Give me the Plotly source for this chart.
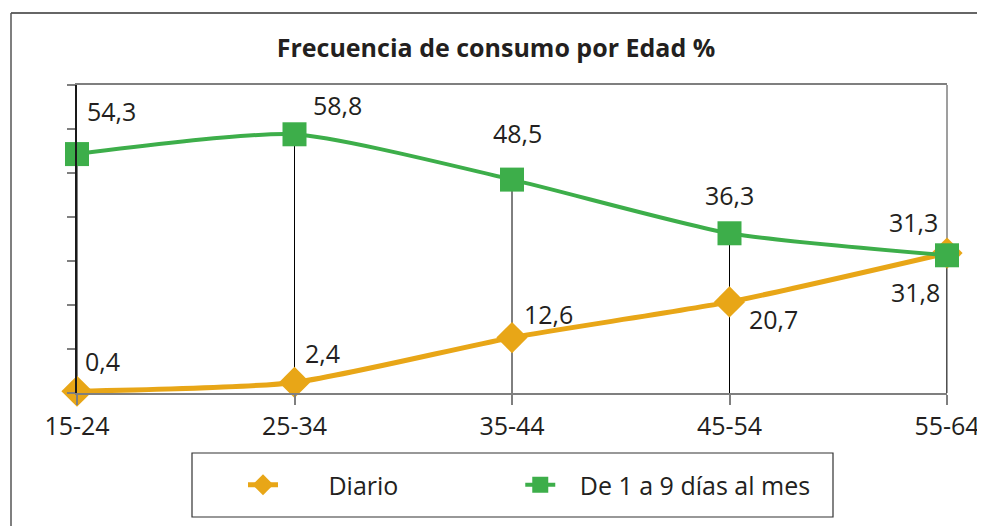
import plotly.graph_objects as go

categories = ["15-24", "25-34", "35-44", "45-54", "55-64"]
diario = [0.4, 2.4, 12.6, 20.7, 31.8]
mensual = [54.3, 58.8, 48.5, 36.3, 31.3]
series_names = ["Diario", "De 1 a 9 días al mes"]
title_text = "Frecuencia de consumo por Edad %"

ORANGE = "#E8A617"
GREEN = "#3DAE4A"
TXT = "#231F20"
FONT = "Open Sans"
NB = "\u00a0"

# page body has an 8px margin: figure origin sits at (8, 8)
OX, OY = 8, 8
W, H = 985 - OX, 526 - OY
PL, PR, PT, PB = 77, 947, 85, 393  # plot area in page pixels
PW, PH = PR - PL, PB - PT

def px(x):
    return (x - PL) / PW

def py(y):
    return (PB - y) / PH

xs = list(range(len(categories)))

fig = go.Figure()

dx, dy = [], []
for i in xs:
    dx += [i, i, None]
    dy += [max(diario[i], mensual[i]), 0, None]
fig.add_trace(go.Scatter(x=dx, y=dy, mode="lines", line=dict(color="#000000", width=1),
                         showlegend=False, hoverinfo="skip"))

fig.add_trace(go.Scatter(x=xs, y=diario, name=NB * 7 + series_names[0] + NB * 18,
                         mode="lines+markers", cliponaxis=False,
                         line=dict(color=ORANGE, width=5, shape="spline", smoothing=0.6),
                         marker=dict(symbol="diamond", size=24, color=ORANGE)))
fig.add_trace(go.Scatter(x=xs, y=mensual, name=NB * 3 + series_names[1], mode="lines+markers",
                         cliponaxis=False,
                         line=dict(color=GREEN, width=4, shape="spline", smoothing=0.6),
                         marker=dict(symbol="square", size=24, color=GREEN)))

def fmt(v):
    return f"{v:.1f}".replace(".", ",")

offs_green = [(34, 43), (43, 29), (5, 47), (0, 38), (-34, 33)]
offs_orange = [(25, 30), (28, 29), (36, 24), (44, -17), (-32, -39)]
for i in xs:
    for vals, offs in ((mensual, offs_green), (diario, offs_orange)):
        fig.add_annotation(x=i, y=vals[i], text=fmt(vals[i]), showarrow=False,
                           xshift=offs[i][0], yshift=offs[i][1],
                           font=dict(family=FONT, size=25, color=TXT))

fig.add_shape(type="line", xref="paper", yref="paper", x0=1, x1=1, y0=0, y1=1,
              line=dict(color="#7f7f7f", width=1.5), layer="below")
fig.add_shape(type="line", xref="paper", yref="paper", x0=px(11), x1=px(990),
              y0=py(13), y1=py(13), line=dict(color="#333333", width=1.5))
fig.add_shape(type="line", xref="paper", yref="paper", x0=px(11), x1=px(11),
              y0=py(13), y1=py(530), line=dict(color="#555555", width=1.5))
fig.add_shape(type="rect", xref="paper", yref="paper", x0=px(192), x1=px(833),
              y0=py(517), y1=py(453), line=dict(color="#333333", width=1.2))

fig.update_layout(
    width=W, height=H,
    margin=dict(l=PL - OX, r=OX + W - PR, t=PT - OY, b=OY + H - PB, autoexpand=False),
    paper_bgcolor="white", plot_bgcolor="white",
    title=dict(text="<b>" + title_text + "</b>", x=(496 - OX) / W, xref="container",
               xanchor="center", y=1 - (48 - OY) / H, yref="container", yanchor="middle",
               font=dict(family=FONT, size=25, color=TXT)),
    font=dict(family=FONT, color=TXT),
    showlegend=True,
    legend=dict(orientation="h", x=px(243), xanchor="left",
                y=py(485), yanchor="middle",
                bgcolor="rgba(0,0,0,0)", borderwidth=0,
                font=dict(family=FONT, size=25, color=TXT)),
    xaxis=dict(range=[0, 4], tickmode="array", tickvals=xs, ticktext=categories,
               showgrid=False, zeroline=False, showline=True, linecolor="#7f7f7f", linewidth=1.5,
               mirror=True, ticks="outside", ticklen=10, tickcolor="#7f7f7f", tickwidth=1.5,
               tickfont=dict(family=FONT, size=25, color=TXT)),
    yaxis=dict(range=[0, 70], dtick=10, showticklabels=False, showgrid=False, zeroline=False,
               showline=True, linecolor="#1a1a1a", linewidth=1.5,
               ticks="outside", ticklen=8, tickcolor="#7f7f7f", tickwidth=1.5),
    hovermode=False,
)

fig.write_html("out.html")
